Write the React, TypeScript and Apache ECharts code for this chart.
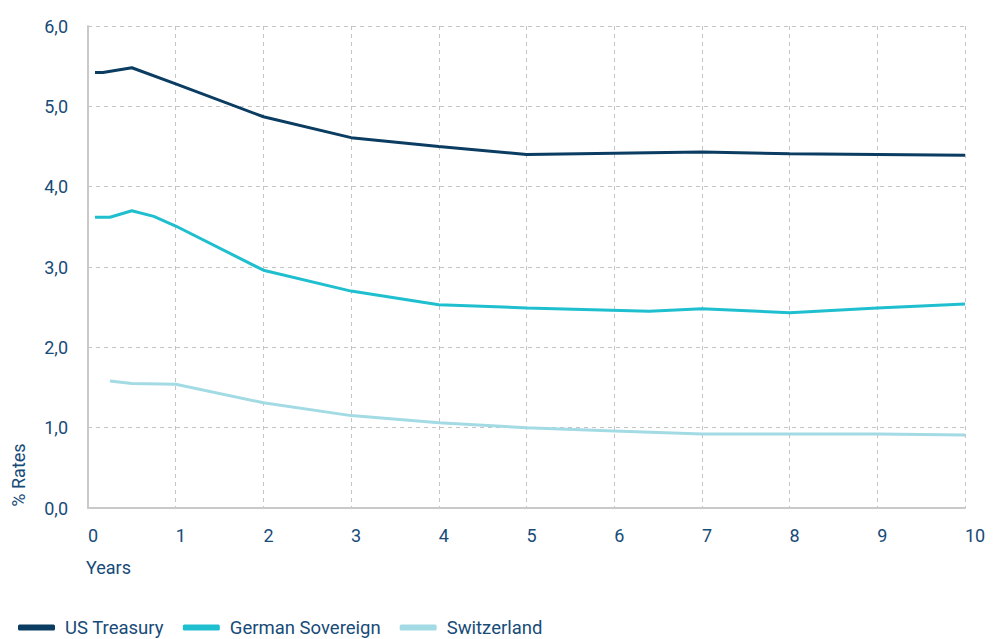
import React, { useEffect, useRef } from "react";
import * as echarts from "echarts";

const seriesNames = ["US Treasury", "German Sovereign", "Switzerland"];
const usYears = [0.08, 0.17, 0.5, 1, 2, 3, 4, 5, 7, 8, 9, 10];
const usRates = [5.42, 5.42, 5.48, 5.28, 4.87, 4.61, 4.5, 4.4, 4.43, 4.41, 4.4, 4.39];
const deYears = [0.08, 0.25, 0.5, 0.75, 1, 2, 3, 4, 5, 6.4, 7, 8, 9, 10];
const deRates = [3.62, 3.62, 3.7, 3.63, 3.51, 2.96, 2.7, 2.53, 2.49, 2.45, 2.48, 2.43, 2.49, 2.54];
const chYears = [0.25, 0.5, 1, 2, 3, 4, 5, 6, 7, 8, 9, 10];
const chRates = [1.58, 1.55, 1.54, 1.31, 1.15, 1.06, 1.0, 0.96, 0.92, 0.92, 0.92, 0.91];
const colors = ["#0b3c61", "#1fbfcf", "#a3dbe5"];
const xTicks = [0, 1, 2, 3, 4, 5, 6, 7, 8, 9, 10];
const yTicks = [0, 1, 2, 3, 4, 5, 6];

const textColor = "#174b78";
const font = "Roboto, 'Noto Sans', sans-serif";
const fs = 18;

export default function App() {
  const ref = useRef<HTMLDivElement>(null);
  useEffect(() => {
    if (!ref.current) return;
    const chart = echarts.init(ref.current, null, { renderer: "svg" });
    const pairs = (xs: number[], ys: number[]) => xs.map((x, i) => [x, ys[i]]);
    const data = [pairs(usYears, usRates), pairs(deYears, deRates), pairs(chYears, chRates)];
    chart.setOption({
      animation: false,
      textStyle: { fontFamily: font },
      grid: { left: 88, right: 35, top: 26, bottom: 131, containLabel: false },
      xAxis: {
        type: "value",
        min: xTicks[0],
        max: xTicks[xTicks.length - 1],
        interval: 1,
        axisLine: { show: true, lineStyle: { color: "#c9c9c9", width: 2 } },
        axisTick: { show: false },
        splitLine: { show: true, lineStyle: { color: "#c4c4c4", type: [4, 4], width: 1 } },
        axisLabel: {
          color: textColor,
          fontSize: fs,
          fontFamily: font,
          align: "left",
          margin: 18,
          formatter: (v: number) => String(v),
        },
      },
      yAxis: {
        type: "value",
        min: yTicks[0],
        max: yTicks[yTicks.length - 1],
        interval: 1,
        axisLine: { show: true, lineStyle: { color: "#c9c9c9", width: 2 } },
        axisTick: { show: false },
        splitLine: { show: true, lineStyle: { color: "#c4c4c4", type: [4, 4], width: 1 } },
        axisLabel: {
          color: textColor,
          fontSize: fs,
          fontFamily: font,
          margin: 20,
          padding: [0, 0, 10, 0],
          formatter: (v: number) => v.toFixed(1).replace(".", ","),
        },
      },
      legend: {
        left: 13,
        top: 613,
        itemWidth: 37,
        itemHeight: 6,
        itemGap: 19,
        icon: "roundRect",
        data: seriesNames,
        textStyle: { color: textColor, fontSize: 18.5, fontFamily: font, padding: [0, 0, 0, 5] },
      },
      graphic: [
        {
          type: "text",
          x: 18,
          y: 475,
          rotation: Math.PI / 2,
          style: {
            text: "% Rates",
            fill: textColor,
            fontSize: fs,
            fontFamily: font,
            align: "center",
            verticalAlign: "middle",
          },
        },
        {
          type: "text",
          x: 86,
          y: 567,
          style: {
            text: "Years",
            fill: textColor,
            fontSize: fs,
            fontFamily: font,
            align: "left",
            verticalAlign: "middle",
          },
        },
      ],
      series: seriesNames.map((name, i) => ({
        name,
        type: "line",
        data: data[i],
        showSymbol: false,
        symbol: "none",
        smooth: false,
        lineStyle: { color: colors[i], width: 3 },
        itemStyle: { color: colors[i] },
      })),
    });
    return () => chart.dispose();
  }, []);
  return <div ref={ref} style={{ width: 1000, height: 639, position: "absolute", left: 0, top: 0 }} />;
}
